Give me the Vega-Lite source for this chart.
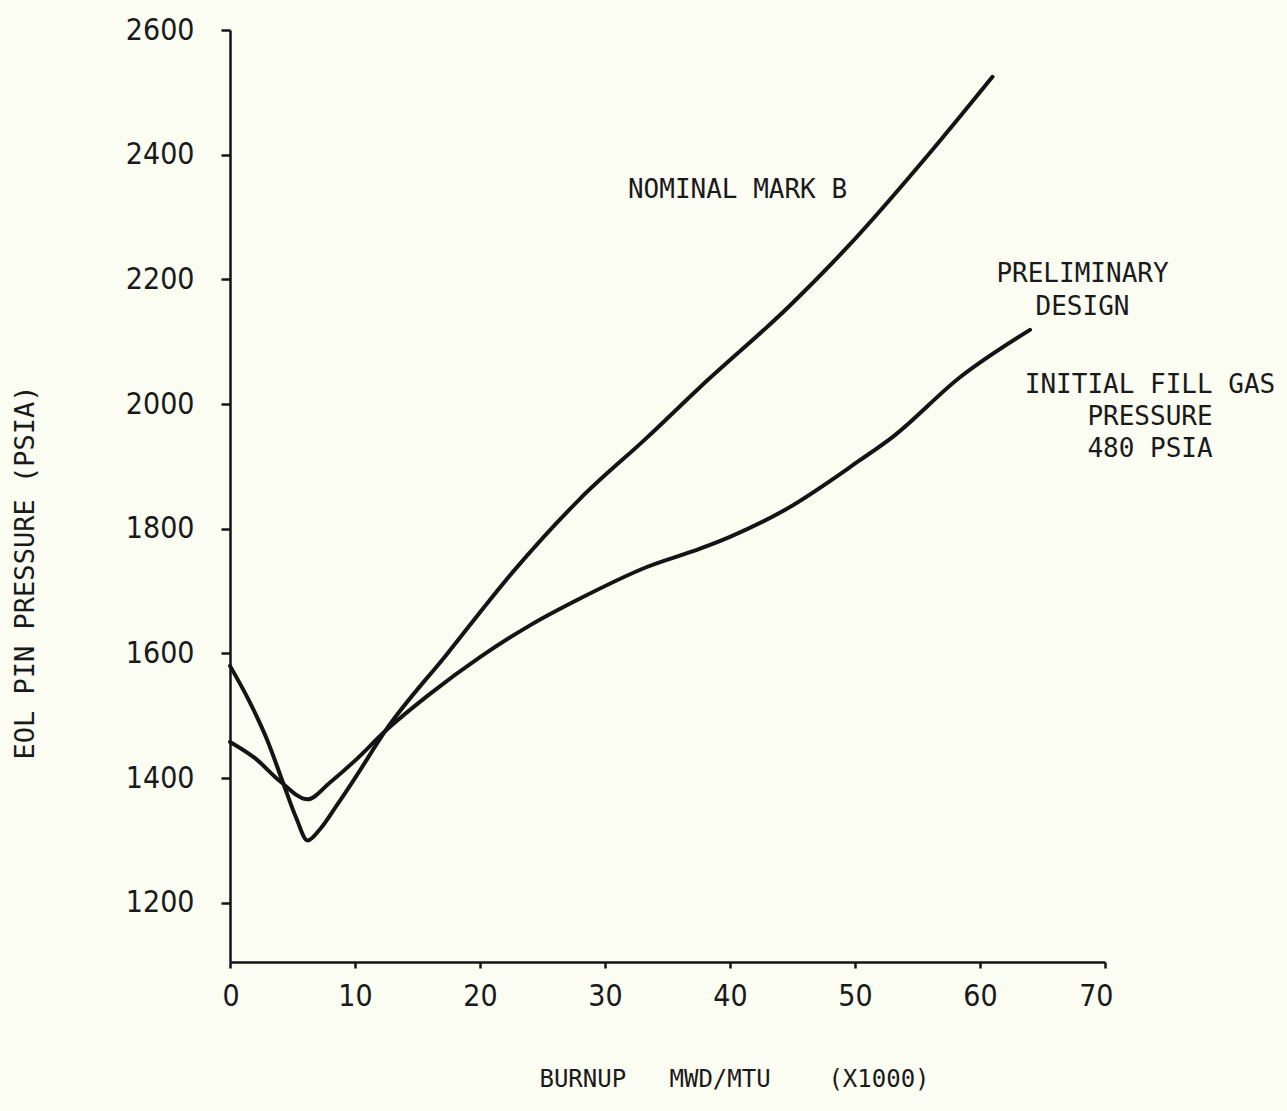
{
  "$schema": "https://vega.github.io/schema/vega-lite/v6.json",
  "width": 875,
  "height": 932,
  "autosize": {"type": "none"},
  "padding": {"left": 230, "top": 30, "right": 182, "bottom": 149},
  "background": "#fbfcf2",
  "config": {"view": {"stroke": null}},
  "datasets": {
    "curves": [
      {"series": "Nominal Mark B", "burnup": 0, "pressure": 1580},
      {"series": "Nominal Mark B", "burnup": 1.5, "pressure": 1525},
      {"series": "Nominal Mark B", "burnup": 3, "pressure": 1460},
      {"series": "Nominal Mark B", "burnup": 4.2, "pressure": 1395},
      {"series": "Nominal Mark B", "burnup": 5.3, "pressure": 1336},
      {"series": "Nominal Mark B", "burnup": 6.2, "pressure": 1300},
      {"series": "Nominal Mark B", "burnup": 7.2, "pressure": 1318},
      {"series": "Nominal Mark B", "burnup": 8.5, "pressure": 1355},
      {"series": "Nominal Mark B", "burnup": 10, "pressure": 1400},
      {"series": "Nominal Mark B", "burnup": 12.4, "pressure": 1475},
      {"series": "Nominal Mark B", "burnup": 17.4, "pressure": 1600},
      {"series": "Nominal Mark B", "burnup": 22.6, "pressure": 1730},
      {"series": "Nominal Mark B", "burnup": 28, "pressure": 1848},
      {"series": "Nominal Mark B", "burnup": 33.4, "pressure": 1947},
      {"series": "Nominal Mark B", "burnup": 37.6, "pressure": 2027},
      {"series": "Nominal Mark B", "burnup": 44.8, "pressure": 2158},
      {"series": "Nominal Mark B", "burnup": 49.4, "pressure": 2252},
      {"series": "Nominal Mark B", "burnup": 56.2, "pressure": 2408},
      {"series": "Nominal Mark B", "burnup": 61, "pressure": 2525},
      {"series": "Preliminary Design", "burnup": 0, "pressure": 1458},
      {"series": "Preliminary Design", "burnup": 2, "pressure": 1432},
      {"series": "Preliminary Design", "burnup": 4, "pressure": 1395},
      {"series": "Preliminary Design", "burnup": 6.2, "pressure": 1366},
      {"series": "Preliminary Design", "burnup": 8, "pressure": 1393},
      {"series": "Preliminary Design", "burnup": 10, "pressure": 1428},
      {"series": "Preliminary Design", "burnup": 12.4, "pressure": 1475},
      {"series": "Preliminary Design", "burnup": 16, "pressure": 1535},
      {"series": "Preliminary Design", "burnup": 20, "pressure": 1594},
      {"series": "Preliminary Design", "burnup": 24, "pressure": 1645},
      {"series": "Preliminary Design", "burnup": 28, "pressure": 1688},
      {"series": "Preliminary Design", "burnup": 33.4, "pressure": 1739},
      {"series": "Preliminary Design", "burnup": 37.6, "pressure": 1768},
      {"series": "Preliminary Design", "burnup": 40, "pressure": 1787},
      {"series": "Preliminary Design", "burnup": 44.2, "pressure": 1828},
      {"series": "Preliminary Design", "burnup": 50.4, "pressure": 1910},
      {"series": "Preliminary Design", "burnup": 53, "pressure": 1947},
      {"series": "Preliminary Design", "burnup": 58.4, "pressure": 2043},
      {"series": "Preliminary Design", "burnup": 64, "pressure": 2119}
    ]
  },
  "layer": [
    {
      "data": {"name": "curves"},
      "mark": {"type": "line", "interpolate": "monotone", "strokeWidth": 4, "color": "#141414", "strokeCap": "round"},
      "encoding": {
        "x": {
          "field": "burnup", "type": "quantitative",
          "scale": {"domain": [0, 70], "nice": false, "zero": false},
          "axis": {
            "values": [0, 10, 20, 30, 40, 50, 60, 70],
            "format": "d",
            "grid": false,
            "domainColor": "#141414", "domainWidth": 2.5,
            "tickColor": "#141414", "tickWidth": 2.5, "tickSize": 6,
            "labelFont": "DejaVu Sans Condensed, Liberation Sans Narrow, Roboto, sans-serif", "labelFontSize": 30, "labelColor": "#1a1a1a",
            "labelPadding": 13, "labelFlush": true, "labelFlushOffset": 8,
            "title": "BURNUP\u00a0\u00a0\u00a0MWD/MTU\u00a0\u00a0\u00a0\u00a0(X1000)",
            "titleFont": "DejaVu Sans Mono", "titleFontSize": 24, "titleFontWeight": "normal", "titleColor": "#1a1a1a",
            "titleX": 504, "titleY": 124, "titleAlign": "center", "titleBaseline": "alphabetic"
          }
        },
        "y": {
          "field": "pressure", "type": "quantitative",
          "scale": {"domain": [1105, 2600], "nice": false, "zero": false},
          "axis": {
            "values": [1200, 1400, 1600, 1800, 2000, 2200, 2400, 2600],
            "format": "d",
            "grid": false,
            "domainColor": "#141414", "domainWidth": 2.5,
            "tickColor": "#141414", "tickWidth": 2.5, "tickSize": 9,
            "labelFont": "DejaVu Sans Condensed, Liberation Sans Narrow, Roboto, sans-serif", "labelFontSize": 30, "labelColor": "#1a1a1a",
            "labelPadding": 27,
            "title": "EOL PIN PRESSURE (PSIA)",
            "titleFont": "DejaVu Sans Mono", "titleFontSize": 27, "titleFontWeight": "normal", "titleColor": "#1a1a1a",
            "titleX": -205, "titleY": 542, "titleAngle": -90, "titleAlign": "center", "titleBaseline": "middle"
          }
        },
        "detail": {"field": "series", "type": "nominal"}
      }
    },
    {
      "data": {"values": [{"label": "NOMINAL MARK B"}]},
      "mark": {"type": "text", "font": "DejaVu Sans Mono", "fontSize": 26, "color": "#1a1a1a", "align": "center", "baseline": "alphabetic"},
      "encoding": {
        "text": {"field": "label", "type": "nominal"},
        "x": {"datum": 40.6, "type": "quantitative"},
        "y": {"datum": 2330, "type": "quantitative"}
      }
    },
    {
      "data": {"values": [{"label": "PRELIMINARY DESIGN"}]},
      "mark": {"type": "text", "text": ["PRELIMINARY", "DESIGN"], "lineHeight": 33, "font": "DejaVu Sans Mono", "fontSize": 26, "color": "#1a1a1a", "align": "center", "baseline": "alphabetic"},
      "encoding": {
        "x": {"datum": 68.2, "type": "quantitative"},
        "y": {"datum": 2196, "type": "quantitative"}
      }
    },
    {
      "data": {"values": [{"label": "INITIAL FILL GAS PRESSURE 480 PSIA"}]},
      "mark": {"type": "text", "text": ["INITIAL FILL GAS", "PRESSURE", "480 PSIA"], "lineHeight": 32, "font": "DejaVu Sans Mono", "fontSize": 26, "color": "#1a1a1a", "align": "center", "baseline": "alphabetic"},
      "encoding": {
        "x": {"datum": 73.6, "type": "quantitative"},
        "y": {"datum": 2018, "type": "quantitative"}
      }
    }
  ]
}
